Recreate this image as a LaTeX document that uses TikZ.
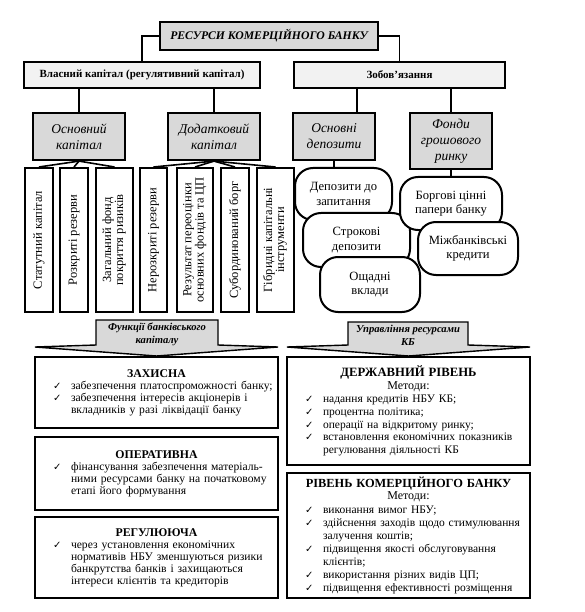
\documentclass[tikz,border=0pt]{standalone}
\usepackage{fontspec}
\setmainfont{Liberation Serif}
\newfontfamily\djv{DejaVu Sans}
\usetikzlibrary{calc}
\definecolor{hdrgray}{HTML}{D9D9D9}
\definecolor{lightfill}{HTML}{F2F2F2}
\newcommand\ck{\hspace*{15pt}\makebox[18pt][l]{\djv\fontsize{10}{10}\selectfont ✓}}
\newcommand\ckind{\hspace*{33pt}}
\begin{document}
\begin{tikzpicture}[x=1pt,y=-1pt,
  sz/.style 2 args={minimum width=#1pt,minimum height=#2pt,inner sep=0pt},
  box/.style={draw,line width=2.4pt,align=center},
  topbox/.style={box,fill=hdrgray,font=\fontsize{11.7}{13}\selectfont\bfseries\itshape},
  lvl1/.style={box,fill=lightfill,font=\fontsize{11}{12}\selectfont\bfseries},
  lvl2/.style={box,line width=2.2pt,fill=hdrgray,font=\fontsize{13.5}{16}\selectfont\itshape},
  vbox/.style={draw,line width=2pt,fill=white,font=\fontsize{12.5}{12}\selectfont},
  rbox/.style={draw,line width=2pt,fill=white,rounded corners=18pt,align=center,font=\fontsize{12.6}{14.5}\selectfont},
  bbox/.style={draw,line width=2.4pt,fill=white,inner sep=3pt,text width=237pt,font=\fontsize{11.6}{12}\selectfont},
  conn/.style={line width=1.6pt},
  hdr/.style={fill=hdrgray,draw,line width=1.4pt,line join=miter},
  hdrtext/.style={align=center,font=\fontsize{10.6}{13}\selectfont\bfseries\itshape}
]
\useasboundingbox (0,0) rectangle (585,612);

% top levels
\node[topbox,sz={218}{28}] (top) at (269,36) {РЕСУРСИ КОМЕРЦІЙНОГО БАНКУ};
\node[lvl1,sz={236}{26}] (vl) at (142,75) {Власний капітал (регулятивний капітал)};
\node[lvl1,sz={211}{26}] (zob) at (399.5,75) {Зобов'язання};

\node[lvl2,sz={92}{47}] (ok) at (79,136.5) {Основний\\капітал};
\node[lvl2,sz={92}{47}] (dk) at (214,136.5) {Додатковий\\капітал};
\node[lvl2,sz={82}{47}] (od) at (334,136.5) {Основні\\депозити};
\node[lvl2,sz={82}{56}] (fg) at (451,141) {Фонди\\грошового\\ринку};

% vertical boxes
\node[vbox,sz={28}{144}] (v1) at (39,240) {\rotatebox{90}{Статутний капітал}};
\node[vbox,sz={28}{144}] (v2) at (74,240) {\rotatebox{90}{Розкриті резерви}};
\node[vbox,sz={37}{144}] (v3) at (114.5,240) {\rotatebox{90}{\begin{tabular}{@{}c@{}}Загальний фонд\\покриття ризиків\end{tabular}}};
\node[vbox,sz={27}{144}] (v4) at (153.5,240) {\rotatebox{90}{Нерозкриті резерви}};
\node[vbox,sz={36}{144}] (v5) at (195,240) {\rotatebox{90}{\begin{tabular}{@{}c@{}}Результат переоцінки\\основних фондів та ЦП\end{tabular}}};
\node[vbox,sz={28}{144}] (v6) at (235,240) {\rotatebox{90}{Субординований борг}};
\node[vbox,sz={37}{144}] (v7) at (275.5,240) {\rotatebox{90}{\begin{tabular}{@{}c@{}}Гібридні капітальні\\інструменти\end{tabular}}};

% rounded boxes
\node[rbox,sz={97}{52}] (dep1) at (343.5,194) {Депозити до\\запитання};
\node[rbox,sz={107}{54}] (dep2) at (356.5,240) {Строкові\\депозити};
\node[rbox,sz={100}{55}] (dep3) at (370,284.5) {Ощадні\\вклади};
\node[rbox,sz={102}{53}] (borg) at (451,203.5) {Боргові цінні\\папери банку};
\node[rbox,sz={100}{53}] (mizh) at (468,248.5) {Міжбанківські\\кредити};

% connectors
\draw[conn] (top.west) -| (vl.north);
\draw[conn] (top.east) -| (zob.north);
\draw[conn] (ok.north) -- (ok.north |- vl.south);
\draw[conn] (dk.north) -- (dk.north |- vl.south);
\draw[conn] ([xshift=23pt]od.north) -- ([xshift=23pt]od.north |- zob.south);
\draw[conn] (fg.north) -- (fg.north |- zob.south);
\foreach \v in {v1,v2,v3} \draw[conn] (ok.south) -- (\v.north);
\foreach \v in {v4,v5,v6,v7} \draw[conn] (dk.south) -- (\v.north);
\draw[conn] (od.south) -- (od.south |- dep1.north);
\draw[conn] (fg.south) -- (borg.north);

% headers
\path[hdr] (96,320) -- (218,320) -- (218,345) -- (278,347) -- (156.5,356) -- (35,347) -- (96,345) -- cycle;
\node[hdrtext] (hl) at (157,334) {Функції банківського\\капіталу};
\path[hdr] (348,322) -- (468,322) -- (468,345) -- (530,347) -- (408.5,356) -- (287,347) -- (348,345) -- cycle;
\node[hdrtext] (hr) at (408,335) {Управління ресурсами\\КБ};

% bottom left boxes
\node[bbox,minimum height=71pt] (zah) at (156.5,392.5) {\raggedright
{\centering\fontsize{11.8}{14}\selectfont\bfseries ЗАХИСНА\par}
\ck забезпечення платоспроможності банку;\par
\ck\makebox[204pt][s]{забезпечення інтересів акціонерів і}\par
\ckind вкладників у разі ліквідації банку\par};

\node[bbox,minimum height=73pt] (oper) at (156.5,473.5) {\raggedright
{\centering\fontsize{11.8}{14}\selectfont\bfseries ОПЕРАТИВНА\par}
\ck\makebox[196pt][s]{фінансування забезпечення матеріаль-}\par
\ckind\makebox[196pt][s]{ними ресурсами банку на початковому}\par
\ckind етапі його формування\par};

\node[bbox,minimum height=81pt] (reg) at (156.5,557.5) {\raggedright
{\centering\fontsize{11.8}{14}\selectfont\bfseries РЕГУЛЮЮЧА\par}
\ck\makebox[196pt][s]{через установлення економічних}\par
\ckind\makebox[196pt][s]{нормативів НБУ зменшуються ризики}\par
\ckind\makebox[196pt][s]{банкрутства банків і захищаються}\par
\ckind інтереси клієнтів та кредиторів\par};

% bottom right boxes
\node[bbox,minimum height=108pt,font=\fontsize{11.5}{12.8}\selectfont] (derzh) at (408.5,411) {\raggedright
{\centering\fontsize{12.7}{13}\selectfont\bfseries ДЕРЖАВНИЙ РІВЕНЬ\par}
{\centering\fontsize{12}{13}\selectfont Методи:\par}
\ck надання кредитів НБУ КБ;\par
\ck процентна політика;\par
\ck операції на відкритому ринку;\par
\ck встановлення економічних показників\par
\ckind регулювання діяльності КБ\par};

\node[bbox,minimum height=125pt,font=\fontsize{11.5}{13.1}\selectfont] (kom) at (408.5,535.5) {\raggedright
{\centering\fontsize{12.4}{12.5}\selectfont\bfseries РІВЕНЬ КОМЕРЦІЙНОГО БАНКУ\par}
{\centering\fontsize{12}{12.5}\selectfont Методи:\par}
\ck виконання вимог НБУ;\par
\ck здійснення заходів щодо стимулювання\par
\ckind залучення коштів;\par
\ck підвищення якості обслуговування\par
\ckind клієнтів;\par
\ck використання різних видів ЦП;\par
\ck підвищення ефективності розміщення\par};
\end{tikzpicture}
\end{document}
